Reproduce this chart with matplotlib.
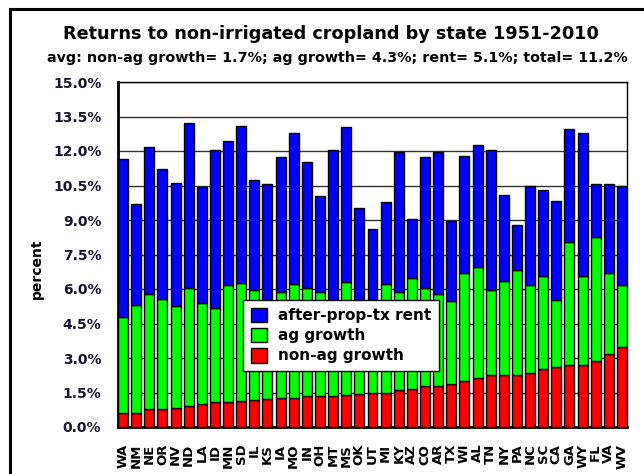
import matplotlib
matplotlib.use("Agg")
import matplotlib.pyplot as plt
import numpy as np
from matplotlib.lines import Line2D

plt.rcParams['font.family'] = ['Liberation Sans', 'DejaVu Sans']

states = ["WA", "NM", "NE", "OR", "NV", "ND", "LA", "ID", "MN", "SD", "IL", "KS", "IA",
          "MO", "IN", "OH", "MT", "MS", "OK", "UT", "MI", "KY", "AZ", "CO", "AR", "TX",
          "WI", "AL", "TN", "NY", "PA", "NC", "SC", "CA", "GA", "WY", "FL", "VA", "WV"]

non_ag_growth = [0.62, 0.62, 0.77, 0.77, 0.81, 0.90, 1.01, 1.07, 1.07, 1.14, 1.16, 1.20, 1.27,
                 1.27, 1.35, 1.35, 1.35, 1.41, 1.42, 1.46, 1.46, 1.59, 1.65, 1.78, 1.80, 1.86,
                 2.00, 2.14, 2.26, 2.26, 2.26, 2.33, 2.52, 2.59, 2.71, 2.71, 2.86, 3.17, 3.49]

ag_growth = [4.18, 4.68, 5.00, 4.81, 4.45, 5.14, 4.38, 4.12, 5.12, 5.11, 4.81, 4.20, 4.59,
             4.96, 4.69, 4.51, 3.95, 4.89, 3.58, 3.74, 4.77, 4.27, 4.84, 4.25, 4.00, 3.60,
             4.70, 4.80, 3.70, 4.10, 4.55, 3.84, 4.03, 2.92, 5.35, 3.84, 5.39, 3.53, 2.67]

rent = [6.85, 4.40, 6.40, 5.64, 5.35, 7.19, 5.04, 6.87, 6.26, 6.85, 4.78, 5.15, 5.88,
        6.55, 5.50, 4.18, 6.76, 6.73, 4.52, 3.39, 3.54, 6.10, 2.57, 5.71, 6.16, 3.50,
        5.10, 5.32, 6.10, 3.74, 1.99, 4.30, 3.75, 4.33, 4.90, 6.23, 2.30, 3.85, 4.32]

yticks = [0.0, 1.5, 3.0, 4.5, 6.0, 7.5, 9.0, 10.5, 12.0, 13.5, 15.0]

title = "Returns to non-irrigated cropland by state 1951-2010"
subtitle = "avg: non-ag growth= 1.7%; ag growth= 4.3%; rent= 5.1%; total= 11.2%"

W, H = 644, 474
fig = plt.figure(figsize=(W / 100, H / 100), dpi=100)
fig.patch.set_facecolor("white")

ax = fig.add_axes([118 / W, 1 - 427 / H, (627 - 118) / W, (427 - 82) / H])

x = np.arange(len(states))
na = np.array(non_ag_growth)
ag = np.array(ag_growth)
rt = np.array(rent)
bw = 0.76

b_red = ax.bar(x, na, width=bw, color="#FF0000", edgecolor="black", linewidth=1.0, zorder=3)
b_grn = ax.bar(x, ag, bottom=na, width=bw, color="#00FF00", edgecolor="black", linewidth=1.0, zorder=3)
b_blu = ax.bar(x, rt, bottom=na + ag, width=bw, color="#0000FF", edgecolor="black", linewidth=1.0, zorder=3)

ax.set_xlim(-bw / 2, len(states) - 1 + bw / 2)
ax.set_ylim(0, 15)
ax.set_yticks(yticks)
ax.set_yticklabels([f"{v:.1f}%" for v in yticks], fontsize=10, fontweight="bold",
                   color="#141432", family="DejaVu Sans")
ax.set_xticks(x)
ax.set_xticklabels(states, rotation=90, fontsize=9.5, fontweight="bold", color="black",
                   family="DejaVu Sans")
ax.tick_params(axis="y", length=0, pad=12)
ax.tick_params(axis="x", length=0, pad=12)
ax.grid(axis="y", color="#333333", linewidth=1.0, zorder=1)
ax.set_axisbelow(True)
for s in ["top", "right"]:
    ax.spines[s].set_linewidth(1.0)
for s in ["left", "bottom"]:
    ax.spines[s].set_linewidth(2.0)

ax.set_ylabel("percent", fontsize=10, fontweight="bold", labelpad=0, family="DejaVu Sans")
ax.yaxis.set_label_coords(-(118 - 44) / 509, 0.46)

leg = ax.legend([b_blu, b_grn, b_red], ["after-prop-tx rent", "ag growth", "non-ag growth"],
                loc="upper left", bbox_to_anchor=((243 - 118) / 509, (427 - 300) / 345),
                fancybox=False, framealpha=1, edgecolor="black",
                prop={"weight": "bold", "size": 11, "family": "DejaVu Sans"},
                handlelength=1.1, handleheight=1.1,
                borderpad=0.5, labelspacing=0.3, handletextpad=0.7, borderaxespad=0)
leg.get_frame().set_linewidth(1.0)
leg.set_zorder(5)

renderer = fig.canvas.get_renderer()


def fit_text(xc, yc, s, target_w, size0, family):
    t = fig.text(xc / W, 1 - yc / H, s, ha="center", va="center", fontsize=size0,
                 fontweight="bold", family=family)
    w = t.get_window_extent(renderer).width
    t.set_fontsize(size0 * target_w / w)
    return t


fit_text(331, 34, title, 532, 12, "DejaVu Sans")
fit_text(337, 58, subtitle, 580, 10, "DejaVu Sans")

# outer frame (left and top edges visible)
fig.add_artist(Line2D([10 / W, 10 / W], [0, 1 - 9 / H], color="black", linewidth=2.2, transform=fig.transFigure))
fig.add_artist(Line2D([10 / W, 1], [1 - 9 / H, 1 - 9 / H], color="black", linewidth=2.2, transform=fig.transFigure))

fig.savefig("out.png", dpi=100)
